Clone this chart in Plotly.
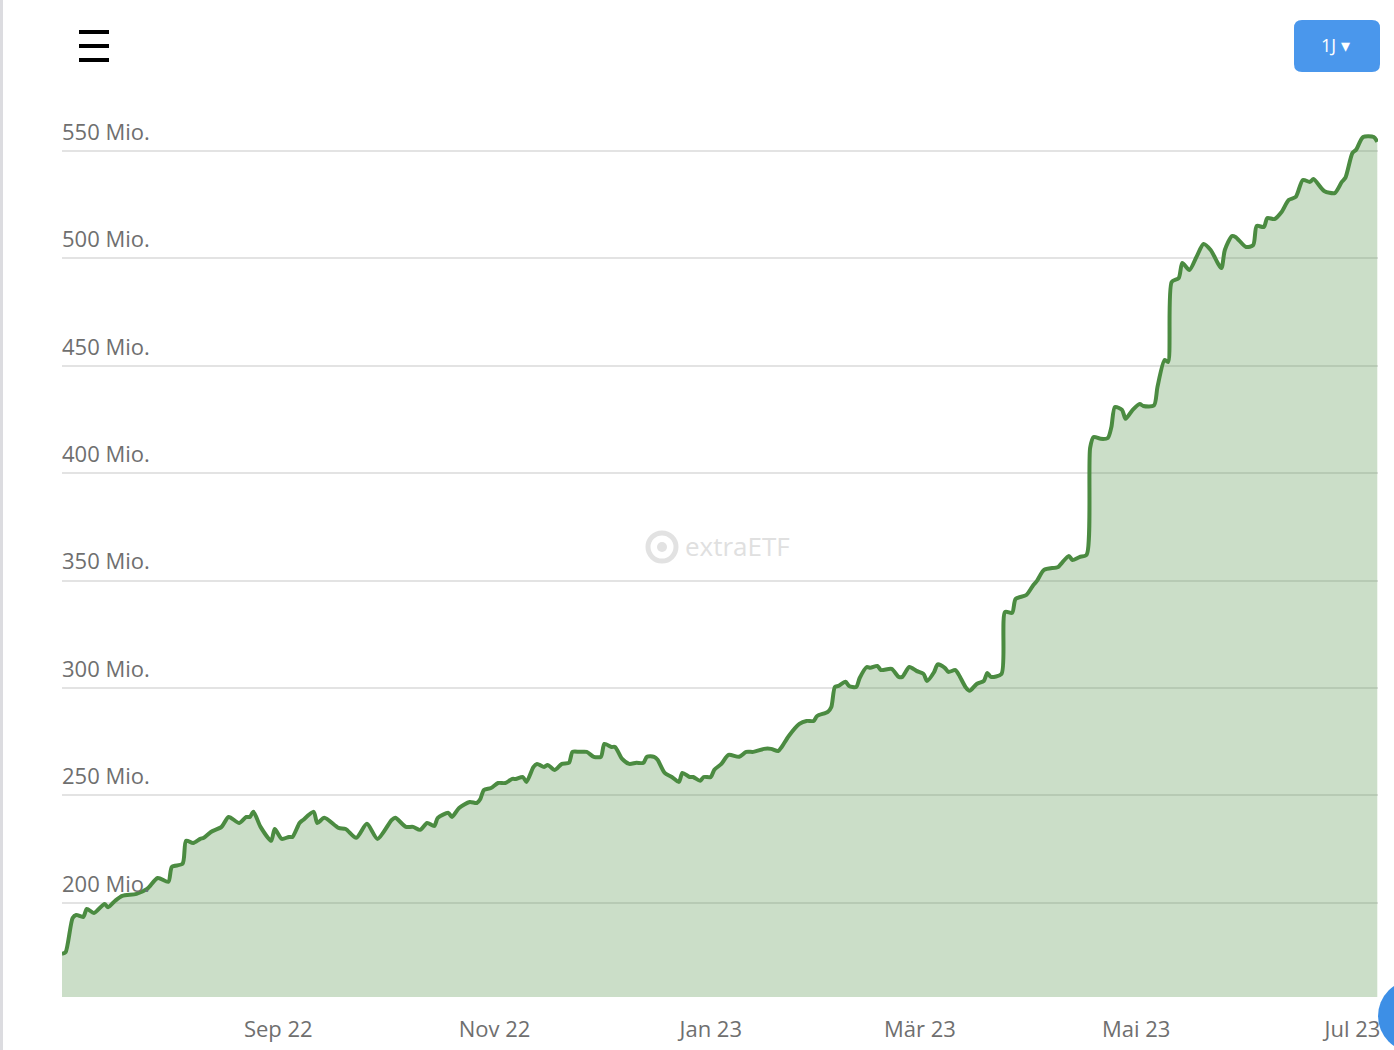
import pandas as pd
import plotly.graph_objects as go

# ---- data (fund volume in Mio., days since 2022-07-02) ----
start_date = "2022-07-02"
day_offsets = [0,1,3,4,6,7,9,12,13,15,17,21,24,27,30,31,34,35,37,39,40,42,45,47,50,52,53,54,56,59,
               60,62,64,65,67,68,71,72,74,78,80,83,86,89,93,94,97,99,101,103,105,106,109,110,112,115,117,118,119,121,
               123,125,127,128,130,131,133,134,136,137,139,141,143,144,146,148,150,152,153,155,156,158,160,162,164,165,167,168,170,172,
               174,175,177,178,180,181,183,184,186,188,191,193,195,198,200,202,203,205,208,210,212,213,216,217,218,219,221,222,224,225,
               227,228,230,231,234,236,237,239,241,243,244,246,247,249,250,252,253,255,256,258,260,261,262,265,266,268,269,272,274,275,
               277,281,282,284,285,287,289,290,291,293,295,296,297,299,300,302,304,305,308,309,311,312,313,315,316,318,320,322,324,327,
               328,330,331,334,336,337,339,340,342,344,346,348,350,352,353,356,359,361,362,364,365,367,370,371]
volume_mio = [176.3,177,193,194.4,193.5,197.2,195.3,199.5,198,201,203.3,204.2,206.5,211.6,209.8,216.8,218.2,228.9,227.9,229.8,
              230.3,233,235.4,240,237.2,240,240,242.4,235.4,228.9,
              234.4,229.8,230.7,230.7,237.2,238.6,242.4,237.2,239.6,234.9,234.4,230.3,236.8,229.8,238.6,239.6,235.4,235.4,234,237.2,
              235.8,239.6,241.9,240,244.2,247,246.5,248.4,252.6,253.5,
              255.8,255.8,257.7,257.7,258.6,256.3,263.3,264.7,263.3,264.2,261.9,264.7,265.2,270.3,270.3,270.3,268,268,274,272.6,
              272.6,267,264.7,265.2,265.2,268,268,266.6,260.5,258.6,
              256.3,260.5,258.6,258.6,256.8,258.6,258.6,262,264.7,268.9,268,270.3,270.3,271.7,271.7,270.7,272.6,277.7,283.3,284.7,
              284.7,287,288.9,291.2,300.5,301,302.9,301,300.5,304.7,
              309.8,309.4,310.3,308.4,308.9,305.2,305.2,309.8,308,306.6,303.3,307.5,311,309.4,307.5,308.4,306.1,300.1,298.7,301.9,
              303.3,307,305.2,306.6,335.4,335,341.5,343.3,348,349.9,
              355,356.4,358.2,361.5,359.6,361,362,411.8,416.9,416,416.4,421.5,430.8,429.5,425.3,429.5,432.2,431.3,431.5,440.2,
              452.7,451.8,489,490.9,497.9,494.6,500.7,506.7,503.9,495.5,
              503.9,510.4,510,505.3,506.2,515.1,514.6,518.8,518.3,521.6,527.2,528.6,536.5,535.6,536.9,531.4,530.4,535.6,537.5,549.1,
              550.5,556.5,556.5,554.2]

tick_dates = ["2022-09-01", "2022-11-01", "2023-01-01", "2023-03-01", "2023-05-01", "2023-07-01"]
tick_labels = ["Sep 22", "Nov 22", "Jan 23", "Mär 23", "Mai 23", "Jul 23"]
y_ticks = [200, 250, 300, 350, 400, 450, 500, 550]
y_tick_labels = [f"{v} Mio." for v in y_ticks]

assert len(day_offsets) == len(volume_mio)

dates = pd.Timestamp(start_date) + pd.to_timedelta(day_offsets, unit="D")
x_end = pd.Timestamp(start_date) + pd.Timedelta(days=371.2)

fig = go.Figure()
fig.add_trace(go.Scatter(
    x=dates, y=volume_mio, mode="lines",
    line=dict(color="#4b8b41", width=4, shape="spline", smoothing=0.7),
    fill="tozeroy", fillcolor="rgba(76,140,66,0.29)",
    hoverinfo="skip", showlegend=False,
))

W, H = 1394, 1050
L, R, T, B = 62, 16, 108, 53
pw, ph = W - L - R, H - T - B

def px(x):
    return (x - L) / pw

def py(y):
    return (H - B - y) / ph

shapes = []
# hamburger menu
for yy in (32, 46, 60):
    shapes.append(dict(type="line", xref="paper", yref="paper", x0=px(79), x1=px(109), y0=py(yy), y1=py(yy),
                       line=dict(color="black", width=4)))
# button (rounded rect)
bx0, bx1, by0, by1, r = 1294, 1380, 20, 72, 8
path = (f"M {px(bx0+r)},{py(by0)} L {px(bx1-r)},{py(by0)} Q {px(bx1)},{py(by0)} {px(bx1)},{py(by0+r)} "
        f"L {px(bx1)},{py(by1-r)} Q {px(bx1)},{py(by1)} {px(bx1-r)},{py(by1)} "
        f"L {px(bx0+r)},{py(by1)} Q {px(bx0)},{py(by1)} {px(bx0)},{py(by1-r)} "
        f"L {px(bx0)},{py(by0+r)} Q {px(bx0)},{py(by0)} {px(bx0+r)},{py(by0)} Z")
shapes.append(dict(type="path", xref="paper", yref="paper", path=path, fillcolor="#4a97ec", line=dict(width=0)))
# watermark logo
shapes.append(dict(type="circle", xref="paper", yref="paper", x0=px(648), x1=px(676), y0=py(533), y1=py(561),
                   line=dict(color="#e2e2e2", width=5), fillcolor="rgba(0,0,0,0)", layer="below"))
shapes.append(dict(type="circle", xref="paper", yref="paper", x0=px(657), x1=px(667), y0=py(542), y1=py(552),
                   line=dict(width=0), fillcolor="#e2e2e2", layer="below"))
# left border line
shapes.append(dict(type="line", xref="paper", yref="paper", x0=px(1.5), x1=px(1.5), y0=py(0), y1=py(H),
                   line=dict(color="#dcdce0", width=3)))
# blue floating button partially visible
shapes.append(dict(type="circle", xref="paper", yref="paper", x0=px(1378), x1=px(1450), y0=py(980), y1=py(1052),
                   line=dict(width=0), fillcolor="#3d8fe6"))

annotations = [
    dict(xref="paper", yref="paper", x=px(1335), y=py(45), text="1J ▾", showarrow=False,
         font=dict(family="Open Sans", size=18, color="white"), xanchor="center", yanchor="middle"),
    dict(xref="paper", yref="paper", x=px(683), y=py(546), text="extraETF", showarrow=False,
         font=dict(family="Open Sans", size=26, color="#e0e0e0"), xanchor="left", yanchor="middle"),
]

fig.update_layout(
    width=W, height=H,
    margin=dict(l=L, r=R, t=T, b=B, autoexpand=False),
    paper_bgcolor="white", plot_bgcolor="white",
    font=dict(family="Open Sans", color="#6f6f6f"),
    shapes=shapes, annotations=annotations,
    xaxis=dict(
        range=[pd.Timestamp(start_date), x_end],
        tickvals=pd.to_datetime(tick_dates), ticktext=tick_labels,
        showgrid=False, zeroline=False, showline=False,
        ticks="outside", ticklen=13, tickcolor="rgba(0,0,0,0)",
        tickfont=dict(size=22, color="#6f6f6f"),
        automargin=False,
    ),
    yaxis=dict(
        range=[156.2, 570],
        tickvals=y_ticks, ticktext=y_tick_labels,
        showgrid=True, gridcolor="#e3e3e3", gridwidth=2,
        zeroline=False, showline=False,
        ticklabelposition="inside", ticklabelshift=-19, ticklabelstandoff=-3,
        tickfont=dict(size=22, color="#6f6f6f"),
        automargin=False,
    ),
)

fig.write_html("out.html", config={"displayModeBar": False},
               post_script="document.body.style.margin='0';")
